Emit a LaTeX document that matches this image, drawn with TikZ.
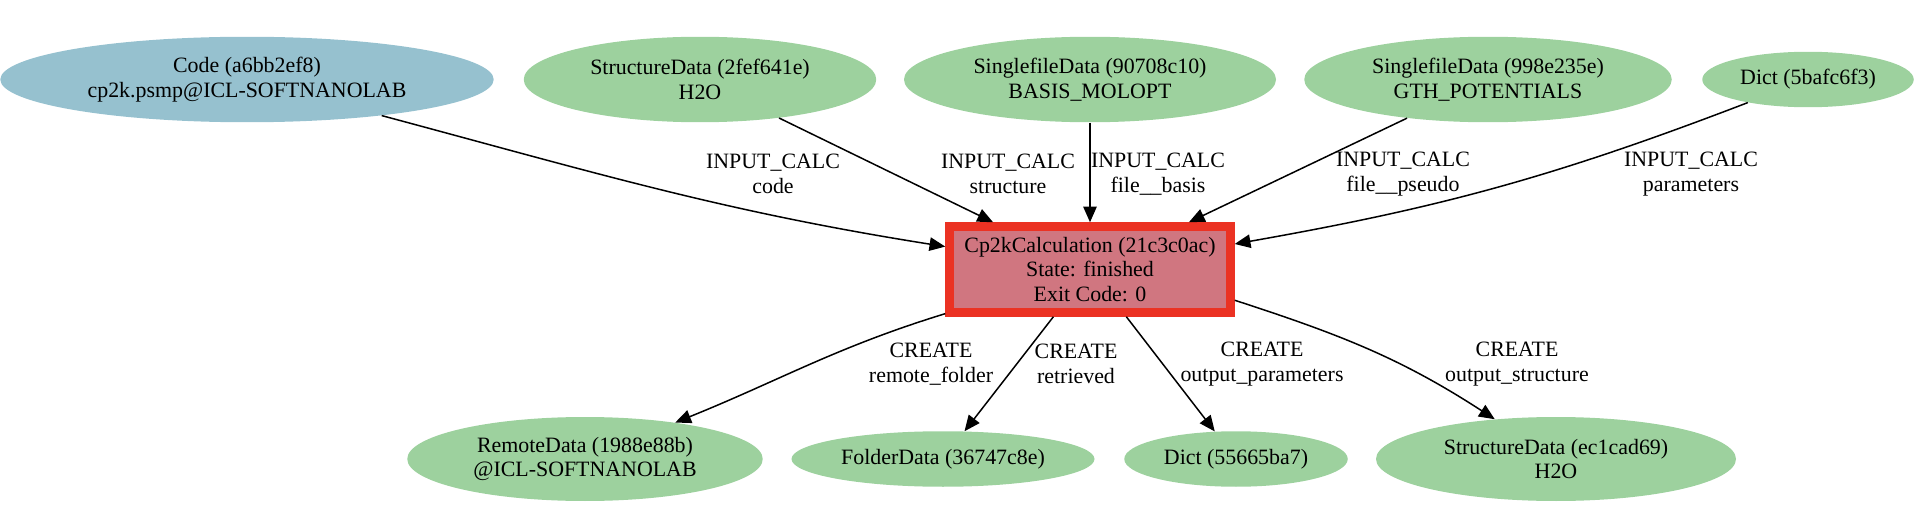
\documentclass[tikz,border=0pt]{standalone}
\usepackage{fontspec}
\setmainfont{Liberation Serif}
\usepackage{tikz}
\usetikzlibrary{arrows.meta, shapes.geometric}

\definecolor{datagreen}{RGB}{157,209,158}
\definecolor{codeblue}{RGB}{150,193,207}
\definecolor{calcpink}{RGB}{208,118,128}
\definecolor{calcred}{RGB}{235,50,35}

\begin{document}
\begin{tikzpicture}[x=0.6667pt, y=0.6667pt,
	font=\fontsize{14.6pt}{16.5pt}\selectfont,
	datanode/.style={ellipse, fill=datagreen, inner sep=0pt, align=center},
	codenode/.style={ellipse, fill=codeblue, inner sep=0pt, align=center},
	calcnode/.style={rectangle, draw=calcred, line width=6pt, fill=calcpink, inner sep=0pt, align=center},
	link/.style={-{Triangle[length=10.5pt,width=9pt]}, line width=1pt},
	linklabel/.style={inner sep=0pt, align=center}]
	\useasboundingbox (0,0) rectangle (1920,524);

	% inputs
	\node[codenode, minimum width=329pt, minimum height=57pt] (code) at (247,444.5) {Code (a6bb2ef8)\\cp2k.psmp@ICL-SOFTNANOLAB};
	\node[datanode, minimum width=235pt, minimum height=57pt] (structure) at (700,444.5) {StructureData (2fef641e)\\H2O};
	\node[datanode, minimum width=248pt, minimum height=57pt] (basis) at (1090,444.5) {SinglefileData (90708c10)\\BASIS\_MOLOPT};
	\node[datanode, minimum width=245pt, minimum height=57pt] (pseudo) at (1488,444.5) {SinglefileData (998e235e)\\GTH\_POTENTIALS};
	\node[datanode, minimum width=141pt, minimum height=37pt] (params) at (1808,444.5) {Dict (5bafc6f3)};

	\node[calcnode, minimum width=187pt, minimum height=57pt] (calc) at (1090,254.5) {Cp2kCalculation (21c3c0ac)\\State: finished\\Exit Code: 0};

	% outputs
	\node[datanode, minimum width=237pt, minimum height=56pt] (remote) at (585,65) {RemoteData (1988e88b)\\@ICL-SOFTNANOLAB};
	\node[datanode, minimum width=202pt, minimum height=37pt] (retrieved) at (943,65) {FolderData (36747c8e)};
	\node[datanode, minimum width=149pt, minimum height=37pt] (outparams) at (1236,65) {Dict (55665ba7)};
	\node[datanode, minimum width=240pt, minimum height=56pt] (outstruct) at (1556,65) {StructureData (ec1cad69)\\H2O};

	\draw[link] (code) to[out=-15, in=171] (calc);
	\draw[link] (structure) -- (calc);
	\draw[link] (basis) -- (calc);
	\draw[link] (pseudo) -- (calc);
	\draw[link] (params) to[out=201, in=10] (calc);
	\draw[link] (calc) to[out=197, in=22] (remote);
	\draw[link] (calc) -- (retrieved);
	\draw[link] (calc) -- (outparams);
	\draw[link] (calc.-12) to[out=-18, in=147] (outstruct);

	\node[linklabel] (lcode) at (773,350) {INPUT\_CALC\\code};
	\node[linklabel] (lstructure) at (1008,350) {INPUT\_CALC\\structure};
	\node[linklabel] (lbasis) at (1158,350) {INPUT\_CALC\\file\_\_basis};
	\node[linklabel] (lpseudo) at (1403,350) {INPUT\_CALC\\file\_\_pseudo};
	\node[linklabel] (lparams) at (1691,350) {INPUT\_CALC\\parameters};
	\node[linklabel] (lremote) at (931,160) {CREATE\\remote\_folder};
	\node[linklabel] (lretrieved) at (1076,160) {CREATE\\retrieved};
	\node[linklabel] (loutparams) at (1262,160) {CREATE\\output\_parameters};
	\node[linklabel] (loutstruct) at (1517,160) {CREATE\\output\_structure};
\end{tikzpicture}
\end{document}
